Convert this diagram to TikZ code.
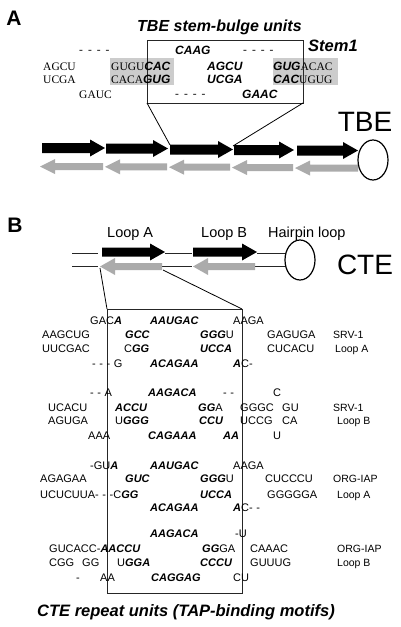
\documentclass[tikz,border=0pt]{standalone}
\usepackage{fontspec}
\setmainfont{Liberation Sans}
\newfontfamily\srf{Liberation Serif}
\newcommand\bi[1]{{\bfseries\itshape #1}}
\newcommand\dsh{\hspace{3.6pt}}
\newcommand\dshA{\hspace{5pt}}
% right arrow: style, x-tail, x-tip, y, shaft half, head half
\newcommand\RA[6]{\fill[#1] (#2,#4-#5) -- (#3-15,#4-#5) -- (#3-15,#4-#6) -- (#3,#4) -- (#3-15,#4+#6) -- (#3-15,#4+#5) -- (#2,#4+#5) -- cycle;}
% left arrow: style, x-tip, x-tail, y, shaft half, head half
\newcommand\LA[6]{\fill[#1] (#3,#4-#5) -- (#2+15,#4-#5) -- (#2+15,#4-#6) -- (#2,#4) -- (#2+15,#4+#6) -- (#2+15,#4+#5) -- (#3,#4+#5) -- cycle;}
\begin{document}
\begin{tikzpicture}[x=1pt,y=-1pt,
  txt/.style={anchor=base west,inner sep=0pt,font=\fontsize{11}{13}\selectfont},
  sA/.style={anchor=base west,inner sep=0pt,font=\srf\fontsize{11.5}{13}\selectfont},
  bA/.style={anchor=base west,inner sep=0pt,font=\fontsize{12}{13}\selectfont\bfseries\itshape},
  lab/.style={anchor=base west,inner sep=0pt,font=\fontsize{10.5}{12}\selectfont},
  big/.style={anchor=center,inner sep=0pt,font=\fontsize{28}{30}\selectfont},
  panel/.style={anchor=center,inner sep=0pt,font=\fontsize{21}{23}\selectfont\bfseries},
  title/.style={anchor=base west,inner sep=0pt,font=\fontsize{16.5}{18}\selectfont\bfseries\itshape},
  frame/.style={line width=1pt,draw=black!85},
  conn/.style={line width=0.8pt,draw=black},
  strand/.style={line width=0.8pt,draw=black!85},
  blk/.style={fill=black},
  gry/.style={fill=black!33},
  shade/.style={fill=black!20}]
\useasboundingbox (0,0) rectangle (400,627);

% ---------------- Panel A ----------------
\node[panel] (pA) at (14,18) {A};
\node[title,font=\fontsize{16}{18}\selectfont\bfseries\itshape] (tA) at (137,31) {TBE stem-bulge units};
\node[title] (stem) at (308,51.5) {Stem1};

\fill[shade] (110,58) rectangle (174,85);
\fill[shade] (273,58) rectangle (338,85);
\draw[frame] (147,40) rectangle (303,103);
\coordinate (boxAL) at (147,103);
\coordinate (boxAR) at (303,103);

\node[sA] (a01) at (79,53) {-\dshA-\dshA-\dshA-};
\node[bA] (a02) at (175,54) {CAAG};
\node[sA] (a03) at (243,53) {-\dshA-\dshA-\dshA-};

\node[sA] (a11) at (43,70) {AGCU};
\node[sA] (a12) at (111,70) {GUGU\bi{\fontsize{12}{13}\selectfont\fontspec{Liberation Sans}\bfseries\itshape CAC}};
\node[bA] (a13) at (207,70) {AGCU};
\node[bA] (a14) at (273,70) {GUG\normalfont\srf\fontsize{11.5}{13}\selectfont ACAC};

\node[sA] (a21) at (43,83) {UCGA};
\node[sA] (a22) at (111,83) {CACA\bi{\fontsize{12}{13}\selectfont\fontspec{Liberation Sans}\bfseries\itshape GUG}};
\node[bA] (a23) at (207,83) {UCGA};
\node[bA] (a24) at (273,83) {CAC\normalfont\srf\fontsize{11.5}{13}\selectfont UGUG};

\node[sA] (a31) at (79,98) {GAUC};
\node[sA] (a32) at (175,97) {-\dshA-\dshA-\dshA-};
\node[bA] (a33) at (242,98) {GAAC};

\node[big] (tbe) at (365,122) {TBE};

% arrows A
\RA{blk}{42}{105}{148}{5}{8.5}
\RA{blk}{106}{168}{148.5}{5}{8.5}
\RA{blk}{170}{233}{149.5}{5}{8.5}
\RA{blk}{234}{294}{150}{5}{8.5}
\RA{blk}{297}{358}{150.5}{5}{8.5}
\LA{gry}{40}{103}{166.5}{3.5}{7.5}
\LA{gry}{105}{167}{166.8}{3.5}{7.5}
\LA{gry}{169}{230}{167.2}{3.5}{7.5}
\LA{gry}{232}{293}{167.6}{3.5}{7.5}
\LA{gry}{295}{358}{168}{3.5}{7.5}
\coordinate (j23) at (170,145);
\coordinate (j34) at (233,146);
\draw[conn] (boxAL) -- (j23);
\draw[conn] (boxAR) -- (j34);
\draw[line width=1.2pt] (373,160) ellipse [x radius=15, y radius=20];

% ---------------- Panel B ----------------
\node[panel] (pB) at (15,225) {B};
\node[anchor=base west,inner sep=0pt,font=\fontsize{14.5}{16}\selectfont] (lpA) at (107,237) {Loop A};
\node[anchor=base west,inner sep=0pt,font=\fontsize{14.5}{16}\selectfont] (lpB) at (201,237) {Loop B};
\node[anchor=base west,inner sep=0pt,font=\fontsize{14.5}{16}\selectfont] (hp) at (268,237) {Hairpin loop};
\node[big] (cte) at (365,265) {CTE};

\draw[strand] (72,253) -- (98,253);
\draw[strand] (165,253) -- (192,253);
\draw[strand] (257,253) -- (286,253);
\draw[strand] (72,266) -- (98,266);
\draw[strand] (162,266) -- (192,266);
\draw[strand] (255,266) -- (286,266);
\RA{blk}{102}{165}{252}{4.5}{8.5}
\RA{blk}{193}{257}{252}{4.5}{8.5}
\LA{gry}{100}{162}{266.5}{3.5}{8.5}
\LA{gry}{193}{255}{266.5}{3.5}{8.5}
\draw[line width=1.2pt] (300,260) ellipse [x radius=15, y radius=20];

\coordinate (gL) at (100,268);
\coordinate (gR) at (163,270);
\draw[frame] (107,309) rectangle (242,593);
\coordinate (bTL) at (107,309);
\coordinate (bTR) at (242,309);
\draw[conn] (gL) -- (bTL);
\draw[conn] (gR) -- (bTR);

% SRV-1 Loop A
\node[txt] (b11) at (90,324) {GAC\bi{A}};
\node[txt] (b12) at (150,324) {\bi{AAUGAC}};
\node[txt] (b13) at (233,324) {AAGA};
\node[txt] (b21) at (42,338) {AAGCUG};
\node[txt] (b22) at (125,338) {\bi{GCC}};
\node[txt] (b23) at (200,338) {\bi{GGG}U};
\node[txt] (b24) at (267,338) {GAGUGA};
\node[lab] (b25) at (333,338) {SRV-1};
\node[txt] (b31) at (42,352) {UUCGAC};
\node[txt] (b32) at (124,352) {C\bi{GG}};
\node[txt] (b33) at (200,352) {\bi{UCCA}};
\node[txt] (b34) at (267,352) {CUCACU};
\node[lab] (b35) at (335,352) {Loop A};
\node[txt] (b41) at (92,367) {-\dsh-\dsh-\dsh G};
\node[txt] (b42) at (150,367) {\bi{ACAGAA}};
\node[txt] (b43) at (233,367) {\bi{A}C-};

% SRV-1 Loop B
\node[txt] (c11) at (90,396) {-\dsh-\dsh A};
\node[txt] (c12) at (148,396) {\bi{AAGACA}};
\node[txt] (c13) at (223,396) {-\dsh-};
\node[txt] (c14) at (273,396) {C};
\node[txt] (c21) at (48,411) {UCACU};
\node[txt] (c22) at (115,411) {\bi{ACCU}};
\node[txt] (c23) at (198,411) {\bi{GG}A};
\node[txt] (c24) at (240,411) {GGGC};
\node[txt] (c25) at (282,411) {GU};
\node[lab] (c26) at (333,411) {SRV-1};
\node[txt] (c31) at (48,424) {AGUGA};
\node[txt] (c32) at (115,424) {U\bi{GGG}};
\node[txt] (c33) at (199,424) {\bi{CCU}};
\node[txt] (c34) at (240,424) {UCCG};
\node[txt] (c35) at (282,424) {CA};
\node[lab] (c36) at (337,424) {Loop B};
\node[txt] (c41) at (88,439) {AAA};
\node[txt] (c42) at (148,439) {\bi{CAGAAA}};
\node[txt] (c43) at (223,439) {\bi{AA}};
\node[txt] (c44) at (273,439) {U};

% ORG-IAP Loop A
\node[txt] (d11) at (90,469) {-GU\bi{A}};
\node[txt] (d12) at (150,469) {\bi{AAUGAC}};
\node[txt] (d13) at (233,469) {AAGA};
\node[txt] (d21) at (40,482) {AGAGAA};
\node[txt] (d22) at (125,482) {\bi{GUC}};
\node[txt] (d23) at (200,482) {\bi{GGG}U};
\node[txt] (d24) at (265,482) {CUCCCU};
\node[lab] (d25) at (333,482) {ORG-IAP};
\node[txt] (d31) at (40,498) {UCUCUUA-\dsh-\dsh-C\bi{GG}};
\node[txt] (d32) at (200,498) {\bi{UCCA}};
\node[txt] (d33) at (267,498) {GGGGGA};
\node[lab] (d34) at (337,498) {Loop A};
\node[txt] (d41) at (150,511) {\bi{ACAGAA}};
\node[txt] (d42) at (233,511) {\bi{A}C-\dsh-};

% ORG-IAP Loop B
\node[txt] (e11) at (150,537) {\bi{AAGACA}};
\node[txt] (e12) at (235,537) {-U};
\node[txt] (e21) at (49,552) {GUCACC-\bi{AACCU}};
\node[txt] (e22) at (202,552) {\bi{GG}GA};
\node[txt] (e23) at (250,552) {CAAAC};
\node[lab] (e24) at (337,552) {ORG-IAP};
\node[txt] (e31) at (49,566) {CGG};
\node[txt] (e32) at (82,566) {GG};
\node[txt] (e33) at (117,566) {U\bi{GGA}};
\node[txt] (e34) at (200,566) {\bi{CCCU}};
\node[txt] (e35) at (250,566) {GUUUG};
\node[lab] (e36) at (337,566) {Loop B};
\node[txt] (e41) at (76,581) {-};
\node[txt] (e42) at (100,581) {AA};
\node[txt] (e43) at (151,581) {\bi{CAGGAG}};
\node[txt] (e44) at (233,581) {CU};

\node[title] (tB) at (37,616) {CTE repeat units (TAP-binding motifs)};
\end{tikzpicture}
\end{document}
